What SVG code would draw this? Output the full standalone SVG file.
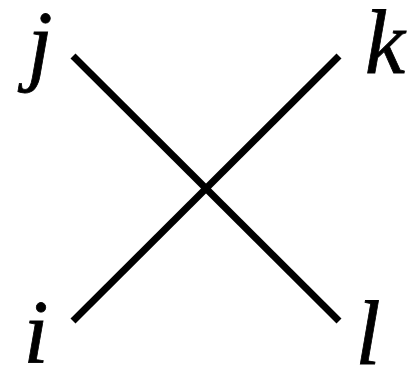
<svg xmlns="http://www.w3.org/2000/svg" width="416" height="378" viewBox="0 0 416 378">
<style>
.lbl{font-family:"Liberation Serif","Times New Roman",serif;font-style:italic;font-size:90px;fill:#000;stroke:#000;stroke-width:0.8;text-anchor:middle}
.edge{stroke:#000;stroke-width:7;fill:none;stroke-linecap:butt}
</style>
<rect width="416" height="378" fill="#fff"/>
<g id="connectors">
<line class="edge" x1="73" y1="56" x2="339" y2="321"/>
<line class="edge" x1="73" y1="321" x2="339" y2="56"/>
</g>
<g id="node-j"><text class="lbl" x="40" y="74">j</text></g>
<g id="node-k"><text class="lbl" x="385" y="73">k</text></g>
<g id="node-i"><text class="lbl" x="36" y="363">i</text></g>
<g id="node-l"><text class="lbl" x="368" y="364">l</text></g>
</svg>
